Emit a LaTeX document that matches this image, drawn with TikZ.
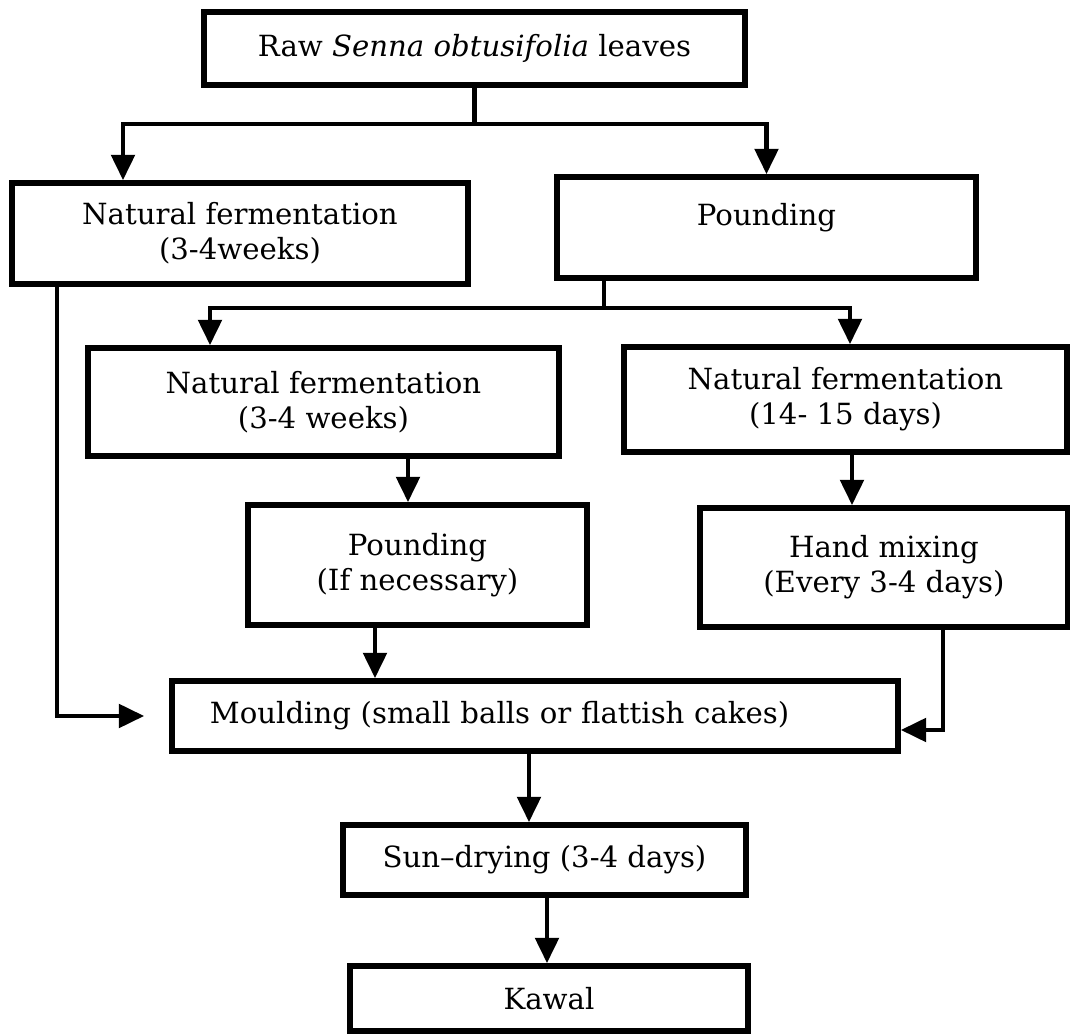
\documentclass[tikz,border=0pt]{standalone}
\usepackage{fontspec}
\setmainfont{DejaVu Serif}
\usetikzlibrary{arrows.meta}
\begin{document}
\begin{tikzpicture}[
    box/.style={draw, line width=1.6pt, align=center, inner sep=0pt,
      font=\fontsize{8.3}{10}\selectfont},
    ln/.style={line width=1.3pt},
    arr/.style={ln, -{Triangle[width=6.6pt,length=7.2pt]}}]
  \useasboundingbox (0,0) rectangle (10.70,-10.34);
  % top
  \node[box, minimum width=5.41cm, minimum height=0.73cm] (raw) at (4.745,-0.485)
    {Raw \textit{Senna obtusifolia} leaves};
  % first split
  \node[box, minimum width=4.56cm, minimum height=1.01cm] (nf1) at (2.40,-2.335)
    {Natural fermentation\\(3-4weeks)};
  \node[box, minimum width=4.19cm, minimum height=1.01cm] (pnd1) at (7.665,-2.275)
    {Pounding\\[-0.2cm]\strut};
  % second split
  \node[box, minimum width=4.71cm, minimum height=1.08cm] (nf2) at (3.235,-4.02)
    {Natural fermentation\\(3-4 weeks)};
  \node[box, minimum width=4.43cm, minimum height=1.05cm] (nf3) at (8.455,-3.995)
    {Natural fermentation\\(14- 15 days)};
  \node[box, minimum width=3.39cm, minimum height=1.20cm] (pnd2) at (4.175,-5.65)
    {Pounding\\(If necessary)};
  \node[box, minimum width=3.68cm, minimum height=1.19cm] (mix) at (8.84,-5.675)
    {Hand mixing\\(Every 3-4 days)};
  % bottom
  \node[box, text width=6.50cm, inner xsep=0.38cm, align=left, minimum height=0.70cm]
    (mould) at (5.35,-7.16) {Moulding (small balls or flattish cakes)};
  \node[box, minimum width=4.03cm, minimum height=0.70cm] (sun) at (5.445,-8.60)
    {Sun--drying (3-4 days)};
  \node[box, minimum width=3.98cm, minimum height=0.65cm] (kawal) at (5.49,-9.985)
    {Kawal};
  % connectors
  \draw[ln] (raw.south) -- ++(0,-0.36) coordinate (fork1);
  \draw[arr] (fork1) -| ([xshift=-1.17cm]nf1.north);
  \draw[arr] (fork1) -| (pnd1.north);
  \draw[ln] ([xshift=-1.625cm]pnd1.south) -- ++(0,-0.27) coordinate (fork2);
  \draw[arr] (fork2) -| ([xshift=-1.135cm]nf2.north);
  \draw[arr] (fork2) -| ([xshift=0.045cm]nf3.north);
  \draw[arr] ([xshift=0.845cm]nf2.south) -- ([xshift=0.845cm]nf2.south |- pnd2.north);
  \draw[arr] ([xshift=0.065cm]nf3.south) -- ([xshift=0.065cm]nf3.south |- mix.north);
  \draw[arr] ([xshift=-0.425cm]pnd2.south) -- ([xshift=-0.425cm]pnd2.south |- mould.north);
  \draw[arr] ([xshift=-1.83cm]nf1.south) |- ([xshift=-0.25cm]mould.west);
  \draw[arr] ([xshift=0.59cm]mix.south) |- ([yshift=-0.14cm]mould.east);
  \draw[arr] ([xshift=-0.06cm]mould.south) -- ([xshift=-0.06cm]mould.south |- sun.north);
  \draw[arr] ([xshift=0.025cm]sun.south) -- ([xshift=0.025cm]sun.south |- kawal.north);
\end{tikzpicture}
\end{document}
